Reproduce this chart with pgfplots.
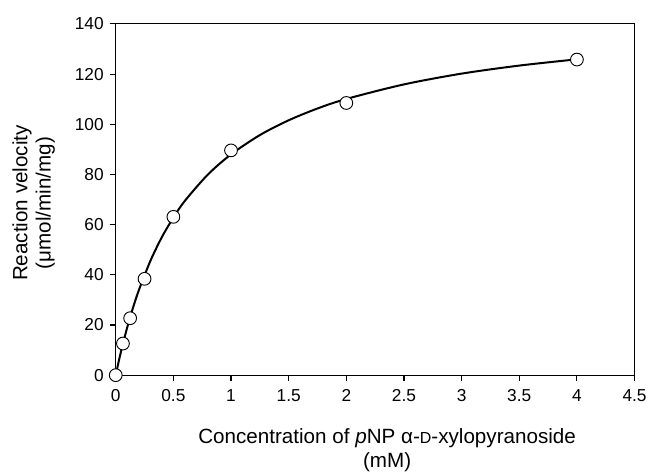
\documentclass[border=0pt]{standalone}
\usepackage{fontspec}
\setmainfont{Liberation Sans}
\usepackage{pgfplots}
\pgfplotsset{compat=1.18}

\begin{document}
\begin{tikzpicture}
\begin{axis}[
    scale only axis,
    width=390pt, height=264pt,
    xmin=0, xmax=4.5,
    ymin=0, ymax=140,
    xtick={0,0.5,...,4.5},
    ytick={0,20,...,140},
    tick align=outside,
    xtick pos=bottom, ytick pos=left,
    major tick length=4.5pt,
    axis line style={line width=0.8pt},
    tick style={line width=0.8pt, black},
    /pgf/number format/assume math mode=true,
    ticklabel style={font=\fontsize{13}{14}\selectfont},
    yticklabel style={xshift=-1pt},
    xticklabel style={/pgf/number format/fixed, yshift=-2.5pt},
    label style={font=\fontsize{15.5}{17.5}\selectfont},
    xlabel={Concentration of \emph{p}NP α-{\fontsize{12}{12}\selectfont D}-xylopyranoside\\(mM)},
    xlabel style={align=center, at={(axis description cs:0.523,-0.14)}, anchor=north},
    ylabel={Reaction velocity\\(μmol/min/mg)},
    ylabel style={align=center, rotate=0, at={(axis description cs:-0.108,0.49)}, anchor=south},
    clip=false,
]
% fitted curve
\addplot[black, line width=1.5pt, smooth, no marks] coordinates {
    (0,0) (0.025,5.3) (0.05,10.2) (0.1,19.1) (0.15,26.9) (0.2,33.8)
    (0.3,45.5) (0.4,55.0) (0.5,62.8) (0.6,69.5) (0.8,80.0) (1.0,88.0)
    (1.25,95.7) (1.5,101.6) (1.75,106.3) (2.0,110.1) (2.5,115.9)
    (3.0,120.2) (3.5,123.4) (4.0,125.9)
};
% measured points
\addplot[only marks, mark=*, mark size=4.8pt,
    mark options={fill=white, draw=black, line width=0.7pt}] coordinates {
    (0,0) (0.0625,12.6) (0.125,22.7) (0.25,38.4) (0.5,63.1)
    (1,89.6) (2,108.5) (4,125.8)
};
\end{axis}
\useasboundingbox (-87pt,-69.75pt) rectangle (401.25pt,282pt);
\end{tikzpicture}
\end{document}
